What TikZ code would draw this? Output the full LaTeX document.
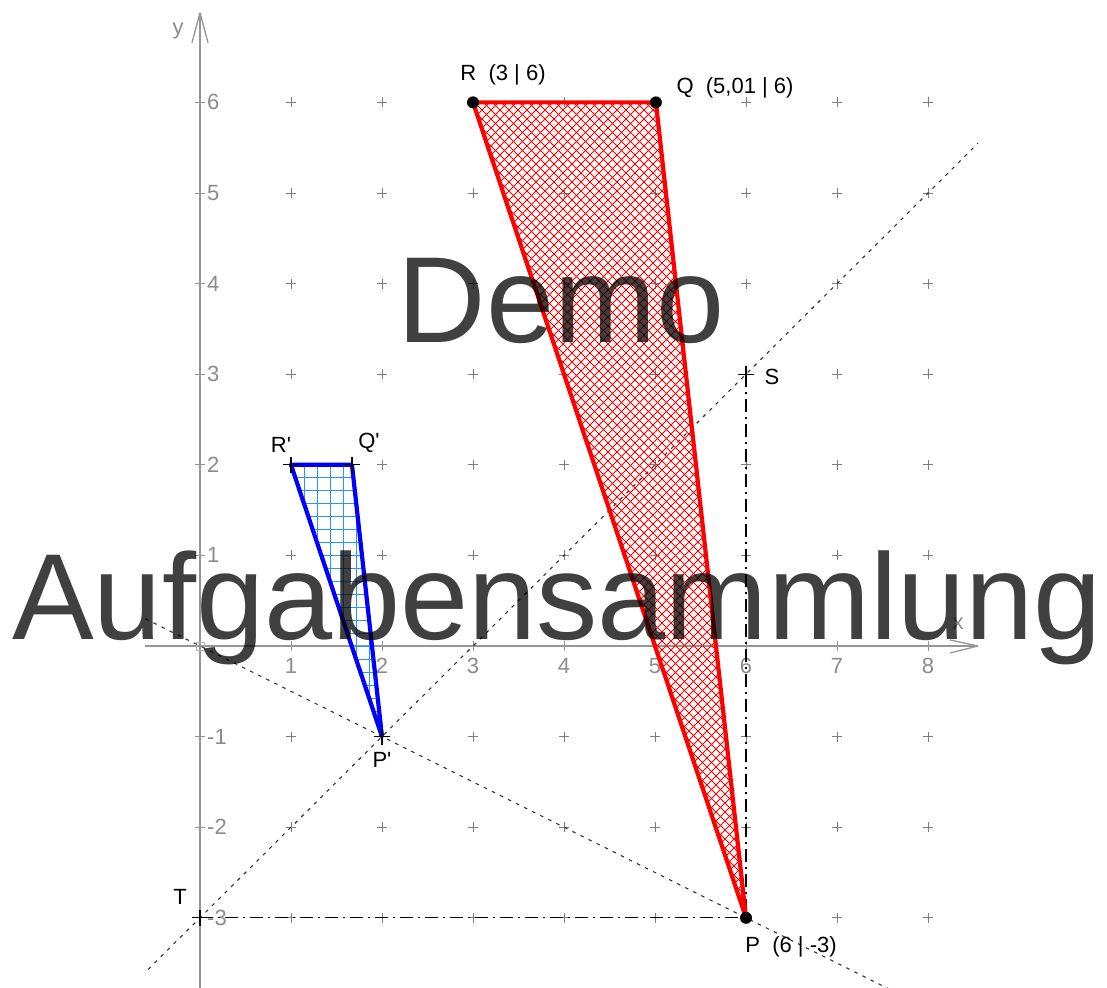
\documentclass[tikz,border=0pt]{standalone}
\usepackage{fontspec}
\setmainfont{Liberation Sans}
\definecolor{axisgray}{RGB}{150,150,150}
\definecolor{gridgray}{RGB}{125,125,125}
\definecolor{labelgray}{RGB}{140,140,140}
\definecolor{hatchred}{RGB}{255,0,0}
\definecolor{gridblue}{RGB}{40,150,255}
\begin{document}
\begin{tikzpicture}[x=91pt,y=90.6pt,
  axisline/.style={draw=axisgray,line width=1.3pt},
  gridmark/.style={draw=gridgray,line width=0.8pt},
  axlab/.style={text=labelgray,font=\fontsize{22}{24}\selectfont,inner sep=0pt},
  ptlab/.style={text=black,font=\fontsize{22}{24}\selectfont,inner sep=0pt},
  hatchline/.style={draw=hatchred,line width=0.9pt},
  bluegrid/.style={draw=gridblue,line width=0.9pt},
  redtri/.style={draw=red,line width=4.2pt,line join=round},
  bluetri/.style={draw=blue,line width=4.2pt,line join=round},
  shortdash/.style={draw=black!80,line width=1.1pt,dash pattern=on 3.5pt off 5.5pt},
  dashdot/.style={draw=black,line width=1.2pt,dash pattern=on 13pt off 5pt on 2pt off 5pt},
  plusmark/.style={draw=black,line width=1.3pt},
  wm/.style={font=\fontsize{122.5}{144}\selectfont,text=black,text opacity=0.75,inner sep=0pt}]
\useasboundingbox (-200pt,-341pt) rectangle (907pt,646pt);

% points
\coordinate (P) at (6,-3);
\coordinate (Q) at (5.01,6);
\coordinate (R) at (3,6);
\coordinate (P1) at (2,-1);
\coordinate (Q1) at (1.67,2);
\coordinate (R1) at (1,2);
\coordinate (S) at (6,3);
\coordinate (T) at (0,-3);
\coordinate (O) at (0,0);
\coordinate (L1a) at (-0.57,-3.57);
\coordinate (L1b) at (8.55,5.55);
\coordinate (L2a) at (-0.6,0.3);
\coordinate (L2b) at (7.6,-3.8);
\coordinate (xtip) at (8.55,0);
\coordinate (xstart) at (-0.6,0);
\coordinate (ytip) at (0,6.99);
\coordinate (ystart) at (0,-3.8);

% grid marks
\foreach \x in {1,...,8}{
  \foreach \y in {-3,...,6}{
    \ifnum\y=0\relax\else
      \draw[gridmark] (\x,\y) +(-5pt,0) -- +(5pt,0) +(0,-5pt) -- +(0,5pt);
    \fi
  }
}

% axes
\draw[axisline] (xstart) -- (xtip);
\draw[axisline] (ystart) -- (ytip);
\draw[axisline] (xtip) -- +(-28pt,6pt) (xtip) -- +(-28pt,-7pt);
\draw[axisline] (ytip) -- +(-8pt,-30pt) (ytip) -- +(8pt,-30pt);
\draw[draw=axisgray!70,line width=0.8pt] (O) +(-4pt,-4pt) rectangle +(4pt,4pt);
\foreach \y in {-3,...,-1,1,2,...,6}{
  \draw[axisline,line width=0.9pt] (0,\y) +(-5pt,0) -- +(5pt,0);
  \node[axlab,anchor=west,xshift=7pt] (yl\y) at (0,\y) {\y};
}
\foreach \x in {1,...,8}{
  \draw[axisline,line width=0.9pt] (\x,0) +(0,-5pt) -- +(0,5pt);
  \node[axlab,anchor=center,yshift=-20pt] (xl\x) at (\x,0) {\x};
}
\node[axlab] (ylab) at (-22pt,615pt) {y};
\node[axlab] (xlab) at (758pt,22pt) {x};

% auxiliary lines
\draw[shortdash] (L1a) -- (L1b);
\draw[shortdash] (L2a) -- (L2b);
\draw[dashdot] (T) -- (P);
\draw[dashdot] (S) -- (P);

% red triangle hatching
\begin{scope}
  \clip (P) -- (Q) -- (R) -- cycle;
  \foreach \c in {-290,-281,...,840}{
    \draw[hatchline] (\c pt-320pt,-320pt) -- (\c pt+620pt,620pt);
  }
  \foreach \c in {260,269,...,1020}{
    \draw[hatchline] (\c pt+320pt,-320pt) -- (\c pt-620pt,620pt);
  }
\end{scope}
\draw[redtri] (P) -- (Q) -- (R) -- cycle;

% blue triangle grid
\begin{scope}
  \clip (P1) -- (Q1) -- (R1) -- cycle;
  \foreach \k in {0,...,8}{
    \draw[bluegrid] (91pt+\k*13pt,-100pt) -- (91pt+\k*13pt,200pt);
  }
  \foreach \k in {0,...,22}{
    \draw[bluegrid] (80pt,181.2pt-\k*13pt) -- (200pt,181.2pt-\k*13pt);
  }
\end{scope}
\draw[bluetri] (P1) -- (Q1) -- (R1) -- cycle;

% markers
\fill (P) circle (6pt);
\fill (Q) circle (6pt);
\fill (R) circle (6pt);
\foreach \p in {P1,Q1,R1,S,T}{
  \draw[plusmark] (\p) +(-8pt,0) -- +(8pt,0) +(0,-8pt) -- +(0,8pt);
}

% point labels
\node[ptlab] (labR) at (303pt,571pt) {R\ \ (3 | 6)};
\node[ptlab] (labQ) at (535pt,558pt) {Q\ \ (5,01 | 6)};
\node[ptlab] (labP) at (591pt,-301pt) {P\ \ (6 | -3)};
\node[ptlab] (labS) at (572pt,269pt) {S};
\node[ptlab] (labT) at (-20pt,-251pt) {T};
\node[ptlab] (labR1) at (81pt,201pt) {R\textquotesingle};
\node[ptlab] (labQ1) at (169pt,203pt) {Q\textquotesingle};
\node[ptlab] (labP1) at (182pt,-114pt) {P\textquotesingle};

% watermark
\node[wm,anchor=base] (demo) at (361pt,303pt) {Demo};
\node[wm,anchor=base] (aufg) at (357pt,6pt) {Aufgabensammlung};
\end{tikzpicture}
\end{document}
